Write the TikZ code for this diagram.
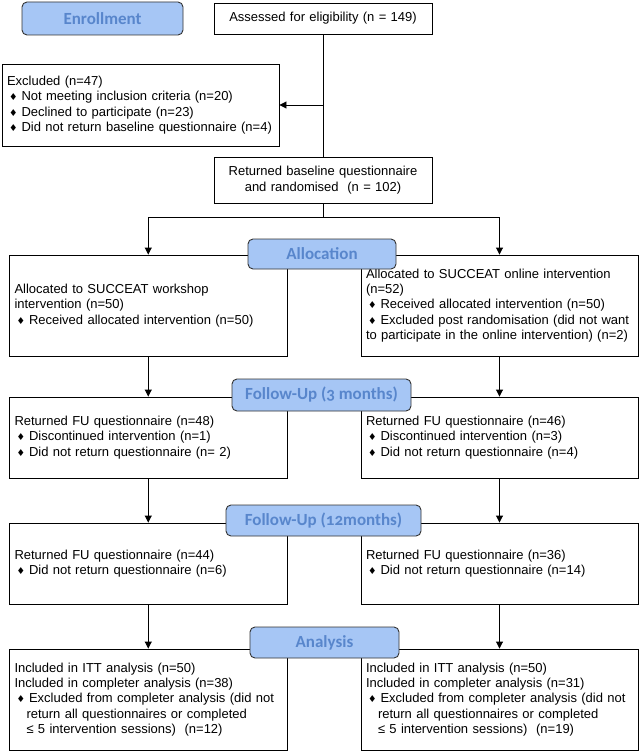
\documentclass[tikz,border=0pt]{standalone}
\usepackage{fontspec}
\setmainfont{Liberation Sans}
\newfontfamily\labfont[Numbers=OldStyle]{Carlito}
\newfontfamily\djfont{DejaVu Sans}
\usetikzlibrary{arrows.meta}
\definecolor{labfill}{RGB}{166,198,245}
\definecolor{labtext}{RGB}{88,134,204}
\tikzset{
 box/.style={draw=black, line width=0.9pt, inner xsep=5pt, inner ysep=0pt, align=left,
   font=\fontsize{13}{15.4}\selectfont, anchor=center},
 lab/.style={draw=black!80, line width=0.9pt, fill=labfill, rounded corners=5pt,
   font=\labfont\bfseries\fontsize{17}{17}\selectfont, text=labtext, inner sep=0pt, anchor=center},
 arr/.style={line width=0.9pt, -{Triangle[length=7pt,width=7pt]}},
 ln/.style={line width=0.9pt},
}
\newcommand{\bul}{\hspace{2pt}{\djfont\fontsize{9.5}{9.5}\selectfont ♦}\hspace{4pt}}
\newcommand{\ind}{\hspace*{12pt}}
\begin{document}
\begin{tikzpicture}[x=1pt,y=-1pt]
\useasboundingbox (0,0) rectangle (642,752);
\fill[white] (0,0) rectangle (642,752);
% main boxes
\node[box, minimum height=31pt, text width=208pt, align=center] (assess) at (323,18.5) {Assessed for eligibility (n = 149)};
\node[box, minimum height=82pt, text width=267pt] (excl) at (140.5,105) {Excluded (n=47)\\
\bul Not meeting inclusion criteria (n=20)\\
\bul Declined to participate (n=23)\\
\bul Did not return baseline questionnaire (n=4)};
\node[box, minimum height=46pt, text width=208pt, align=center] (base) at (323,180) {Returned baseline questionnaire\\and randomised~ (n = 102)};
\node[box, minimum height=101pt, text width=267.5pt] (allocL) at (148.25,305.5) {Allocated to SUCCEAT workshop\\intervention (n=50)\\
\bul Received allocated intervention (n=50)};
\node[box, minimum height=101pt, text width=267pt] (allocR) at (499.5,305.5) {Allocated to SUCCEAT online intervention\\(n=52)\\
\bul Received allocated intervention (n=50)\\
\bul Excluded post randomisation (did not want\\to participate in the online intervention) (n=2)};
\node[box, minimum height=81pt, text width=267.5pt] (fu3L) at (148.25,437.5) {Returned FU questionnaire (n=48)\\
\bul Discontinued intervention (n=1)\\
\bul Did not return questionnaire (n= 2)};
\node[box, minimum height=81pt, text width=267pt] (fu3R) at (499.5,437.5) {Returned FU questionnaire (n=46)\\
\bul Discontinued intervention (n=3)\\
\bul Did not return questionnaire (n=4)};
\node[box, minimum height=81pt, text width=267.5pt] (fu12L) at (148.25,563.5) {Returned FU questionnaire (n=44)\\
\bul Did not return questionnaire (n=6)};
\node[box, minimum height=81pt, text width=267pt] (fu12R) at (499.5,563.5) {Returned FU questionnaire (n=36)\\
\bul Did not return questionnaire (n=14)};
\node[box, minimum height=101pt, text width=267.5pt] (anL) at (148.25,699.5) {Included in ITT analysis (n=50)\\
Included in completer analysis (n=38)\\
\bul Excluded from completer analysis (did not\\
\ind return all questionnaires or completed\\
\ind ≤ 5 intervention sessions)~ (n=12)};
\node[box, minimum height=101pt, text width=267pt] (anR) at (499.5,699.5) {Included in ITT analysis (n=50)\\
Included in completer analysis (n=31)\\
\bul Excluded from completer analysis (did not\\
\ind return all questionnaires or completed\\
\ind ≤ 5 intervention sessions)~ (n=19)};
% connectors
\coordinate (j1) at (323,105);
\coordinate (j2) at (323,217);
\coordinate (jl) at (148.25,217);
\coordinate (jr) at (499.5,217);
\draw[ln] (assess.south) -- (base.north);
\draw[arr] (j1) -- (excl.east);
\draw[ln] (base.south) -- (j2);
\draw[ln] (jl) -- (jr);
\draw[arr] (jl) -- (allocL.north);
\draw[arr] (jr) -- (allocR.north);
\draw[arr] (allocL.south) -- (fu3L.north);
\draw[arr] (allocR.south) -- (fu3R.north);
\draw[arr] (fu3L.south) -- (fu12L.north);
\draw[arr] (fu3R.south) -- (fu12R.north);
\draw[arr] (fu12L.south) -- (anL.north);
\draw[arr] (fu12R.south) -- (anR.north);
% stage labels
\node[lab, minimum width=161pt, minimum height=33pt] (enroll) at (102.5,18.5) {Enrollment};
\node[lab, minimum width=148pt, minimum height=30pt] (allocation) at (322,254) {Allocation};
\node[lab, minimum width=179pt, minimum height=32pt] (fu3) at (321.5,395) {Follow-Up (3 months)};
\node[lab, minimum width=195pt, minimum height=31pt] (fu12) at (323.5,520.5) {Follow-Up (12months)};
\node[lab, minimum width=149pt, minimum height=31pt] (analysis) at (324.5,642.5) {Analysis};
\end{tikzpicture}
\end{document}
